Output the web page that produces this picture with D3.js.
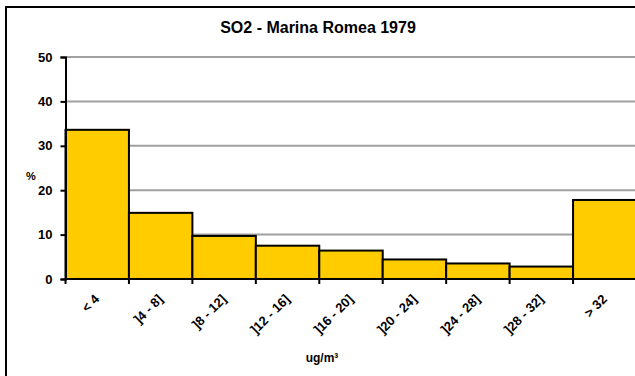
<!DOCTYPE html>
<html>
<head>
<meta charset="utf-8">
<script src="https://cdn.jsdelivr.net/npm/d3@7"></script>
<style>
  html, body { margin: 0; padding: 0; background: #fff; overflow: hidden; }
  svg { display: block; }
  text { font-family: Arial, "Liberation Sans", sans-serif; font-weight: bold; fill: #000; }
</style>
</head>
<body>
<svg id="chart" width="635" height="376"></svg>
<script>
const categories = ["< 4", "]4 - 8]", "]8 - 12]", "]12 - 16]", "]16 - 20]", "]20 - 24]", "]24 - 28]", "]28 - 32]", "> 32"];
const values = [33.6, 14.9, 9.7, 7.5, 6.4, 4.4, 3.5, 2.8, 17.8];
const yTicks = [0, 10, 20, 30, 40, 50];
const title = "SO2 - Marina Romea 1979";
const yLabel = "%";
const xLabel = "ug/m³";

const svg = d3.select("#chart");

// outer frame (extends beyond the visible window on right and bottom)
svg.append("rect")
  .attr("x", 6).attr("y", 7)
  .attr("width", 640).attr("height", 380)
  .attr("fill", "none").attr("stroke", "#000").attr("stroke-width", 2);

const plot = { left: 65.5, right: 636.5, top: 57, bottom: 279 };

const x = d3.scaleBand().domain(categories).range([plot.left, plot.right]).padding(0);
const y = d3.scaleLinear().domain([0, 50]).range([plot.bottom, plot.top]);

// gridlines
svg.append("g").selectAll("line")
  .data(yTicks.filter(d => d > 0))
  .join("line")
  .attr("x1", plot.left).attr("x2", plot.right + 5)
  .attr("y1", d => y(d)).attr("y2", d => y(d))
  .attr("stroke", "#a0a0a0").attr("stroke-width", 2);

// bars
svg.append("g").selectAll("rect")
  .data(values)
  .join("rect")
  .attr("x", (d, i) => x(categories[i]))
  .attr("y", d => y(d))
  .attr("width", x.bandwidth())
  .attr("height", d => y(0) - y(d))
  .attr("fill", "#ffcc00")
  .attr("stroke", "#000").attr("stroke-width", 2);

// y axis
const yAxis = d3.axisLeft(y).tickValues(yTicks).tickSize(5).tickPadding(8).tickFormat(d3.format("d"));
const gy = svg.append("g").attr("transform", `translate(${plot.left},0)`).call(yAxis);
gy.select(".domain").attr("stroke", "#000").attr("stroke-width", 2);
gy.selectAll(".tick line").attr("stroke", "#000").attr("stroke-width", 2);
gy.selectAll(".tick text")
  .style("font-family", "Arial, 'Liberation Sans', sans-serif")
  .style("font-weight", "bold")
  .style("font-size", "13px").attr("fill", "#000");

// x axis baseline and boundary ticks
const boundaries = categories.map(c => x(c)).concat([x(categories[categories.length - 1]) + x.bandwidth()]);
svg.append("line")
  .attr("x1", plot.left).attr("x2", plot.right + 5)
  .attr("y1", y(0)).attr("y2", y(0))
  .attr("stroke", "#000").attr("stroke-width", 2);
svg.append("g").selectAll("line")
  .data(boundaries)
  .join("line")
  .attr("x1", d => d).attr("x2", d => d)
  .attr("y1", y(0)).attr("y2", y(0) + 5)
  .attr("stroke", "#000").attr("stroke-width", 2);

// x tick labels rotated
svg.append("g").selectAll("text")
  .data(categories)
  .join("text")
  .attr("transform", d => `translate(${x(d) + x.bandwidth() / 2 + 3},${y(0) + 21}) rotate(-45)`)
  .attr("text-anchor", "end")
  .style("font-size", "13px")
  .text(d => d);

// title
svg.append("text")
  .attr("x", 318).attr("y", 33)
  .attr("text-anchor", "middle")
  .style("font-size", "16px")
  .text(title);

// y label
svg.append("text")
  .attr("x", 31).attr("y", 180)
  .attr("text-anchor", "middle")
  .style("font-size", "11px")
  .text(yLabel);

// x label
svg.append("text")
  .attr("x", 322).attr("y", 362)
  .attr("text-anchor", "middle")
  .style("font-size", "12px")
  .text(xLabel);
</script>
</body>
</html>
